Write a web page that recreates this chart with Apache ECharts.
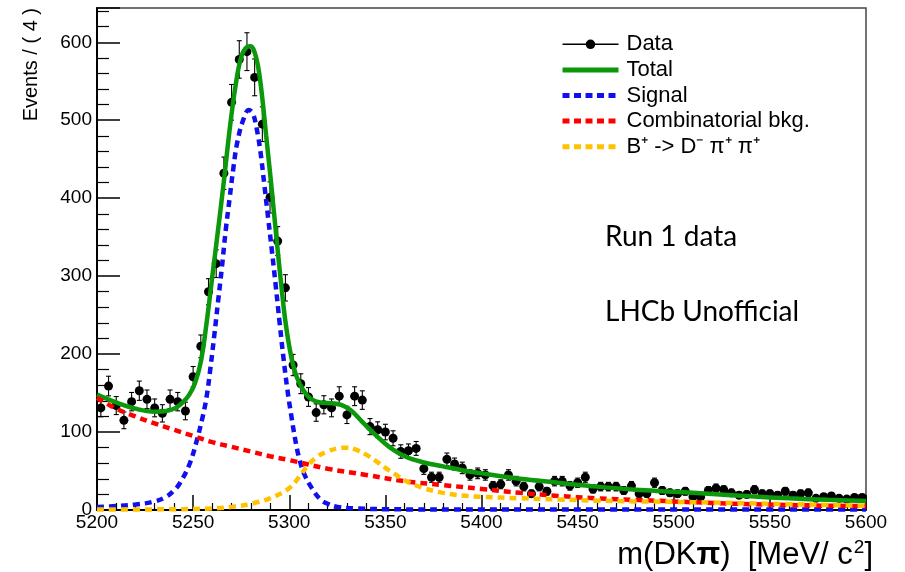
<!DOCTYPE html>
<html><head><meta charset="utf-8">
<script src="https://cdn.jsdelivr.net/npm/echarts@6/dist/echarts.min.js"></script>
<style>html,body{margin:0;padding:0;background:#fff}#c{width:905px;height:572px}</style>
</head><body><div id="c"></div>
<script>
// ---- data ----
const binCenters = [5202,5206,5210,5214,5218,5222,5226,5230,5234,5238,5242,5246,5250,5254,5258,5262,5266,5270,5274,5278,
 5282,5286,5290,5294,5298,5302,5306,5310,5314,5318,5322,5326,5330,5334,5338,5342,5346,5350,5354,5358,
 5362,5366,5370,5374,5378,5382,5386,5390,5394,5398,5402,5406,5410,5414,5418,5422,5426,5430,5434,5438,
 5442,5446,5450,5454,5458,5462,5466,5470,5474,5478,5482,5486,5490,5494,5498,5502,5506,5510,5514,5518,
 5522,5526,5530,5534,5538,5542,5546,5550,5554,5558,5562,5566,5570,5574,5578,5582,5586,5590,5594,5598];
const dataCounts = [131,159,134,115,139,153,142,131,124,142,139,127,171,210,280,316,432,523,578,588,
 555,495,401,345,285,186,162,145,125,135,131,146,122,146,141,107,103,100,92,75,
 76,79,53,42,42,65,59,54,45,47,45,31,33,45,37,30,21,30,24,37,
 37,31,35,42,27,30,30,30,25,31,21,21,35,25,22,21,24,17,17,25,
 28,26,22,19,20,26,21,21,19,24,19,21,22,15,17,18,15,14,16,16];

const totalX = [5200,5210,5220,5230,5236,5241,5245,5248,5251,5254,5257,5260,5263,5266,5269,5272,5275,5278,5280,5282,
 5284,5286,5288,5290,5292,5294,5296,5298,5300,5302,5304,5307,5311,5316,5322,5327,5332,5338,5345,5352,
 5360,5370,5380,5390,5400,5420,5440,5460,5480,5500,5520,5540,5560,5580,5600];
const totalY = [148,138,130,126,127,131,139,148,163,190,240,300,360,422,488,543,581,594,595,587,
 566,528,480,433,383,333,285,242,210,186,170,155,143,138,137,135,128,113,96,81,
 69,61,56,51,47,40,35,30,26,23.5,20.5,17.5,15,13,11.5];

const signalX = [5200,5210,5220,5230,5236,5240,5243,5248,5252,5255,5257,5259,5261,5263,5265,5267,5269,5271,5273,5276,
 5279,5281,5283,5285,5287,5289,5291,5293,5295,5297,5299,5301,5303,5305,5308,5312,5316,5320,5325,5335,
 5350,5400,5600];
const signalY = [4,5,7,11,17,25,34,58,90,120,145,182,224,268,312,360,400,440,472,500,
 513,509,490,460,418,375,332,287,240,195,155,122,92,68,45,27,14,8,4,2,
 1,0.5,0.5];

const combX = [5200,5210,5220,5230,5240,5250,5260,5270,5280,5290,5300,5320,5340,5360,5380,5400,5420,5440,5460,5480,
 5500,5520,5540,5560,5580,5600];
const combY = [144,130,120,111,103,95,87,81,75,69,64,53,45,37,32,27,22,18,15,13,
 11,9,7.5,6.5,5.5,5];

const dppX = [5200,5240,5260,5270,5280,5290,5300,5305,5310,5315,5320,5325,5330,5335,5340,5345,5350,5355,5360,5370,
 5380,5390,5400,5420,5440,5460,5480,5500,5520,5540,5560,5580,5600];
const dppY = [0.5,1,2,4,8,15,28,42,58,69,75,79,80,77,71,63,54,46,38,28,
 22,18.5,17,15,13.5,12,11,10.5,9.5,8.5,7.5,6.5,5.5];

const legendNames = ['Data','Total','Signal','Combinatorial bkg.','B\u207A -> D\u207B \u03C0\u207A \u03C0\u207A'];
// ---------------------------------------

const pairs = (xs, ys) => xs.map((x, i) => [x, ys[i]]);
const FONT = '"Liberation Sans", Arial, Helvetica, sans-serif';
const DASH = [7, 5];
const LEG_DASH = [7, 4.5];
const noSym = {opacity: 0};
const C_TOTAL = '#0b990b', C_SIG = '#1010ee', C_COMB = '#ff0000', C_DPP = '#ffc200';

const chart = echarts.init(document.getElementById('c'), null, {renderer: 'canvas'});
chart.setOption({
  animation: false,
  backgroundColor: '#fff',
  grid: {left: 97, right: 39, top: 8, bottom: 62, show: true, borderColor: '#444', borderWidth: 1.5, backgroundColor: 'transparent'},
  xAxis: {
    type: 'value', min: 5200, max: 5600, interval: 50,
    axisLine: {show: true, onZero: false, lineStyle: {color: '#000', width: 2}},
    axisTick: {show: true, inside: true, length: 15, lineStyle: {color: '#000', width: 1.5}},
    minorTick: {show: true, splitNumber: 5, length: 7, lineStyle: {color: '#000', width: 1.2}},
    splitLine: {show: false},
    axisLabel: {color: '#000', fontSize: 19, fontFamily: FONT, margin: 3, formatter: v => String(v)}
  },
  yAxis: {
    type: 'value', min: 0, max: 644, interval: 100,
    axisLine: {show: true, lineStyle: {color: '#000', width: 2}},
    axisTick: {show: true, inside: true, length: 23, lineStyle: {color: '#000', width: 1.5}},
    minorTick: {show: true, splitNumber: 5, length: 12, lineStyle: {color: '#000', width: 1.2}},
    splitLine: {show: false},
    axisLabel: {color: '#000', fontSize: 19, fontFamily: FONT, margin: 5, showMaxLabel: false, formatter: v => String(v)}
  },
  legend: {
    orient: 'vertical', left: 560, top: 31.5, padding: 0, itemGap: 0,
    itemWidth: 56, itemHeight: 12,
    textStyle: {color: '#000', fontSize: 22, fontFamily: FONT, lineHeight: 25.6, padding: [0, 0, 0, 3]},
    data: [
      {name: legendNames[0], lineStyle: {width: 1.5, color: '#000', opacity: 1}},
      {name: legendNames[1], itemStyle: noSym, lineStyle: {width: 5, color: C_TOTAL}},
      {name: legendNames[2], itemStyle: noSym, lineStyle: {width: 5, color: C_SIG, type: LEG_DASH}},
      {name: legendNames[3], itemStyle: noSym, lineStyle: {width: 5, color: C_COMB, type: LEG_DASH}},
      {name: legendNames[4], itemStyle: noSym, lineStyle: {width: 5, color: C_DPP, type: LEG_DASH}}
    ]
  },
  series: [
    {
      name: 'errors', type: 'custom', z: 2,
      data: binCenters.map((c, i) => [c, dataCounts[i] - Math.sqrt(dataCounts[i]), dataCounts[i] + Math.sqrt(dataCounts[i])]),
      encode: {x: 0, y: [1, 2]},
      renderItem: function (params, api) {
        const x = api.value(0);
        const lo = api.coord([x, api.value(1)]);
        const hi = api.coord([x, api.value(2)]);
        const w = 2.5;
        const st = {stroke: '#000', lineWidth: 1.1};
        return {type: 'group', children: [
          {type: 'line', shape: {x1: lo[0], y1: lo[1], x2: hi[0], y2: hi[1]}, style: st},
          {type: 'line', shape: {x1: lo[0] - w, y1: lo[1], x2: lo[0] + w, y2: lo[1]}, style: st},
          {type: 'line', shape: {x1: hi[0] - w, y1: hi[1], x2: hi[0] + w, y2: hi[1]}, style: st}
        ]};
      }
    },
    {
      name: legendNames[0], type: 'line', z: 3,
      data: pairs(binCenters, dataCounts),
      symbol: 'circle', symbolSize: 9, showAllSymbol: true,
      itemStyle: {color: '#000'},
      lineStyle: {width: 0, opacity: 0, color: '#000'}
    },
    {
      name: legendNames[1], type: 'line', z: 4, data: pairs(totalX, totalY),
      symbol: 'none', smooth: 0.4,
      lineStyle: {color: C_TOTAL, width: 4.5}, itemStyle: {color: C_TOTAL}
    },
    {
      name: legendNames[2], type: 'line', z: 5, data: pairs(signalX, signalY),
      symbol: 'none', smooth: 0.4,
      lineStyle: {color: C_SIG, width: 4.5, type: DASH}, itemStyle: {color: C_SIG}
    },
    {
      name: legendNames[3], type: 'line', z: 5, data: pairs(combX, combY),
      symbol: 'none', smooth: 0.4,
      lineStyle: {color: C_COMB, width: 4.5, type: DASH}, itemStyle: {color: C_COMB}
    },
    {
      name: legendNames[4], type: 'line', z: 5, data: pairs(dppX, dppY),
      symbol: 'none', smooth: 0.4,
      lineStyle: {color: C_DPP, width: 4.5, type: DASH}, itemStyle: {color: C_DPP}
    }
  ],
  graphic: [
    {type: 'text', x: 31, y: 8, rotation: Math.PI / 2,
     style: {text: 'Events / ( 4 )', fill: '#000', font: '20px ' + FONT, align: 'right', verticalAlign: 'middle'}},
    {type: 'text', x: 873, y: 555,
     style: {text: 'm(DK{b|\u03C0})  [MeV/ c{sup|2}]', fill: '#000', font: '31px ' + FONT, align: 'right', verticalAlign: 'middle',
       rich: {b: {fontWeight: 'bold', fontSize: 31, fontFamily: FONT}, sup: {fontSize: 19, fontFamily: FONT, verticalAlign: 'top', padding: [0, 0, 14, 1]}}}},
    {type: 'text', x: 605, y: 237,
     style: {text: 'Run 1 data', fill: '#000', font: '28px Lato, "Open Sans", sans-serif', align: 'left', verticalAlign: 'middle'}},
    {type: 'text', x: 605, y: 312,
     style: {text: 'LHCb Unofficial', fill: '#000', font: '28px Lato, "Open Sans", sans-serif', align: 'left', verticalAlign: 'middle'}}
  ]
});
</script>
</body></html>
